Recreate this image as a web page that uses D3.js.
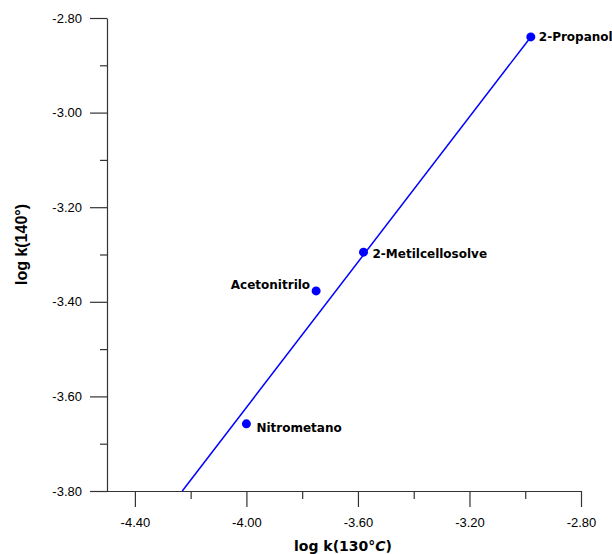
<!DOCTYPE html>
<html>
<head>
<meta charset="utf-8">
<script src="https://cdn.jsdelivr.net/npm/d3@7"></script>
<style>
  html, body { margin: 0; padding: 0; background: #fff; }
  svg { display: block; }
  .tick text { font-family: "Liberation Sans", Arial, sans-serif; font-size: 13px; fill: #000; }
</style>
</head>
<body>
<script>
// Solvents: log k at 130 °C (x) vs log k at 140 °C (y)
const solvents = ["2-Propanol", "2-Metilcellosolve", "Acetonitrilo", "Nitrometano"];
const logK130 = [-2.98, -3.58, -3.75, -4.00];
const logK140 = [-2.84, -3.295, -3.377, -3.658];

// Fitted correlation line end points
const fitX = [-4.23, -2.98];
const fitY = [-3.80, -2.84];

const xTicks = [-4.40, -4.00, -3.60, -3.20, -2.80];
const xMinorTicks = [-4.20, -3.80, -3.40, -3.00];
const yTicks = [-3.80, -3.60, -3.40, -3.20, -3.00, -2.80];
const yMinorTicks = [-3.70, -3.50, -3.30, -3.10, -2.90];

const W = 612, H = 554;
const plotLeft = 107, plotRight = 581, plotTop = 18, plotBottom = 491;

const svg = d3.select("body").append("svg").attr("width", W).attr("height", H);

const x = d3.scaleLinear().domain([-4.5, -2.8]).range([plotLeft, plotRight]);
const y = d3.scaleLinear().domain([-3.8, -2.8]).range([plotBottom, plotTop]);

const axisColor = "#333";
const fmt = d => d.toFixed(2);

// X axis
const gx = svg.append("g").attr("transform", `translate(0,${plotBottom})`);
gx.call(d3.axisBottom(x).tickValues(xTicks).tickFormat(fmt).tickSize(16).tickSizeOuter(0).tickPadding(11));
gx.append("g").call(d3.axisBottom(x).tickValues(xMinorTicks).tickFormat("").tickSize(8).tickSizeOuter(0))
  .select(".domain").remove();
gx.selectAll("line, path").attr("stroke", axisColor).attr("stroke-width", 1.2);
gx.select(".domain").attr("d", `M${plotLeft - 17},0.5H${plotRight}`);

// Y axis
const gy = svg.append("g").attr("transform", `translate(${plotLeft},0)`);
gy.call(d3.axisLeft(y).tickValues(yTicks).tickFormat(fmt).tickSize(17).tickSizeOuter(0).tickPadding(8));
gy.append("g").call(d3.axisLeft(y).tickValues(yMinorTicks).tickFormat("").tickSize(7).tickSizeOuter(0))
  .select(".domain").remove();
gy.selectAll("line, path").attr("stroke", axisColor).attr("stroke-width", 1.2);

// Axis titles
svg.append("text")
  .attr("transform", `translate(27,${(plotTop + plotBottom) / 2 - 10}) rotate(-90)`)
  .attr("text-anchor", "middle")
  .attr("font-family", "'Liberation Sans', Arial, sans-serif")
  .attr("font-weight", "bold")
  .attr("font-size", 16)
  .text("log k(140°)");

const xt = svg.append("text")
  .attr("x", 343).attr("y", 551)
  .attr("text-anchor", "middle")
  .attr("font-family", "'Comic Sans MS', 'DejaVu Sans', sans-serif")
  .attr("font-weight", "bold")
  .attr("font-size", 14);
xt.append("tspan").text("log k(130°");
xt.append("tspan").attr("font-style", "italic").text("C");
xt.append("tspan").text(")");

// Correlation line
svg.append("line")
  .attr("x1", x(fitX[0])).attr("y1", y(fitY[0]))
  .attr("x2", x(fitX[1])).attr("y2", y(fitY[1]))
  .attr("stroke", "#0000ff").attr("stroke-width", 1.5);

// Points
const data = solvents.map((s, i) => ({ name: s, x: logK130[i], y: logK140[i] }));
svg.selectAll("circle.pt").data(data).join("circle")
  .attr("class", "pt")
  .attr("cx", d => x(d.x)).attr("cy", d => y(d.y))
  .attr("r", 4.5).attr("fill", "#0000ff");

// Point labels
const labelPos = {
  "2-Propanol": { dx: 8, dy: 4, anchor: "start" },
  "2-Metilcellosolve": { dx: 9, dy: 6, anchor: "start" },
  "Acetonitrilo": { dx: -6, dy: -2, anchor: "end" },
  "Nitrometano": { dx: 10, dy: 8, anchor: "start" }
};
svg.selectAll("text.lbl").data(data).join("text")
  .attr("class", "lbl")
  .attr("x", d => x(d.x) + labelPos[d.name].dx)
  .attr("y", d => y(d.y) + labelPos[d.name].dy)
  .attr("text-anchor", d => labelPos[d.name].anchor)
  .attr("font-family", "'Comic Sans MS', 'DejaVu Sans', sans-serif")
  .attr("font-weight", "bold")
  .attr("font-size", 12)
  .text(d => d.name);
</script>
</body>
</html>
